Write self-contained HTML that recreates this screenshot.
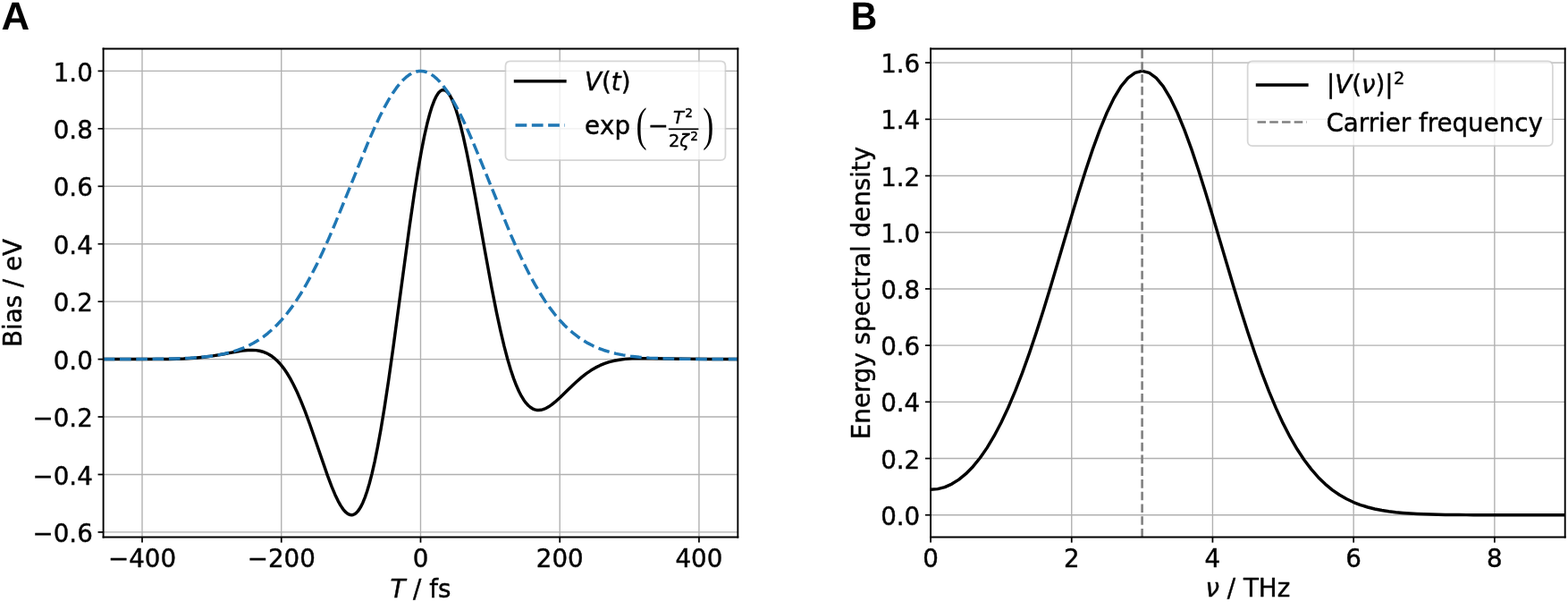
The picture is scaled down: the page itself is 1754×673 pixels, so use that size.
<!DOCTYPE html>
<html><head><meta charset="utf-8"><title>Figure</title><style>
html,body{margin:0;padding:0;background:#fff;}
#w{position:relative;width:1754px;height:673px;overflow:hidden;background:#fff;}
#w svg{display:block;}
#w svg text{stroke:#000;stroke-width:0.25px;stroke-linejoin:round;}
#w svg.ov text{stroke-width:0.0px;}
</style></head><body><div id="w">
<svg width="1754" height="673" viewBox="0 0 1012.994513 388.680335" version="1.1">
 <defs>
  <style type="text/css">*{stroke-linejoin: round; stroke-linecap: butt}</style>
 </defs>
 <g id="figure_1">
  <g id="patch_1">
   <path d="M 0 388.680335 
L 1012.994513 388.680335 
L 1012.994513 0 
L 0 0 
z
" style="fill: #ffffff"/>
  </g>
  <g id="axes_1">
   <g id="patch_2">
    <path d="M 66.762922 346.832226 
L 476.667629 346.832226 
L 476.667629 31.475599 
L 66.762922 31.475599 
z
" style="fill: #ffffff"/>
   </g>
   <g id="matplotlib.axis_1">
    <g id="xtick_1">
     <g id="line2d_1">
      <path d="M 91.83389 346.832226 
L 91.83389 31.475599 
" clip-path="url(#p06e7f5ee72)" style="fill: none; stroke: #b0b0b0; stroke-width: 0.8; stroke-linecap: square"/>
     </g>
     <g id="line2d_2">
      <defs>
       <path id="m8d3a855a7b" d="M 0 0 
L 0 3.5 
" style="stroke: #000000"/>
      </defs>
      <g>
       <use href="#m8d3a855a7b" x="91.83389" y="346.832226" style="stroke: #000000"/>
      </g>
     </g>
     <g id="text_1">
      <text style="font-size: 16px; font-family: 'DejaVu Sans', sans-serif; text-anchor: middle" x="91.8339" y="366.2207">−400</text>
     </g>
    </g>
    <g id="xtick_2">
     <g id="line2d_3">
      <path d="M 181.774583 346.832226 
L 181.774583 31.475599 
" clip-path="url(#p06e7f5ee72)" style="fill: none; stroke: #b0b0b0; stroke-width: 0.8; stroke-linecap: square"/>
     </g>
     <g id="line2d_4">
      <g>
       <use href="#m8d3a855a7b" x="181.774583" y="346.832226" style="stroke: #000000"/>
      </g>
     </g>
     <g id="text_2">
      <text style="font-size: 16px; font-family: 'DejaVu Sans', sans-serif; text-anchor: middle" x="181.7746" y="366.2207">−200</text>
     </g>
    </g>
    <g id="xtick_3">
     <g id="line2d_5">
      <path d="M 271.715276 346.832226 
L 271.715276 31.475599 
" clip-path="url(#p06e7f5ee72)" style="fill: none; stroke: #b0b0b0; stroke-width: 0.8; stroke-linecap: square"/>
     </g>
     <g id="line2d_6">
      <g>
       <use href="#m8d3a855a7b" x="271.715276" y="346.832226" style="stroke: #000000"/>
      </g>
     </g>
     <g id="text_3">
      <text style="font-size: 16px; font-family: 'DejaVu Sans', sans-serif; text-anchor: middle" x="271.7153" y="366.2207">0</text>
     </g>
    </g>
    <g id="xtick_4">
     <g id="line2d_7">
      <path d="M 361.655968 346.832226 
L 361.655968 31.475599 
" clip-path="url(#p06e7f5ee72)" style="fill: none; stroke: #b0b0b0; stroke-width: 0.8; stroke-linecap: square"/>
     </g>
     <g id="line2d_8">
      <g>
       <use href="#m8d3a855a7b" x="361.655968" y="346.832226" style="stroke: #000000"/>
      </g>
     </g>
     <g id="text_4">
      <text style="font-size: 16px; font-family: 'DejaVu Sans', sans-serif; text-anchor: middle" x="361.6560" y="366.2207">200</text>
     </g>
    </g>
    <g id="xtick_5">
     <g id="line2d_9">
      <path d="M 451.596661 346.832226 
L 451.596661 31.475599 
" clip-path="url(#p06e7f5ee72)" style="fill: none; stroke: #b0b0b0; stroke-width: 0.8; stroke-linecap: square"/>
     </g>
     <g id="line2d_10">
      <g>
       <use href="#m8d3a855a7b" x="451.596661" y="346.832226" style="stroke: #000000"/>
      </g>
     </g>
     <g id="text_5">
      <text style="font-size: 16px; font-family: 'DejaVu Sans', sans-serif; text-anchor: middle" x="451.5967" y="366.2207">400</text>
     </g>
    </g>
    <g id="xlabA" transform="translate(0.0000 1.0396)">
     <g transform="translate(252.035276 385.474726)">
      <text>
       <tspan x="0" y="-0.84375" style="font-style: oblique; font-size: 16px; font-family: 'DejaVu Sans', sans-serif">T</tspan>
       <tspan x="9.773438" y="-0.84375" style="font-size: 16px; font-family: 'DejaVu Sans', sans-serif"> </tspan>
       <tspan x="14.859375" y="-0.84375" style="font-size: 16px; font-family: 'DejaVu Sans', sans-serif">/</tspan>
       <tspan x="20.25" y="-0.84375" style="font-size: 16px; font-family: 'DejaVu Sans', sans-serif"> </tspan>
       <tspan x="25.335938" y="-0.84375" style="font-size: 16px; font-family: 'DejaVu Sans', sans-serif">f</tspan>
       <tspan x="30.96875" y="-0.84375" style="font-size: 16px; font-family: 'DejaVu Sans', sans-serif">s</tspan>
      </text>
     </g>
    </g>
   </g>
   <g id="matplotlib.axis_2">
    <g id="ytick_1">
     <g id="line2d_11">
      <path d="M 66.762922 343.575948 
L 476.667629 343.575948 
" clip-path="url(#p06e7f5ee72)" style="fill: none; stroke: #b0b0b0; stroke-width: 0.8; stroke-linecap: square"/>
     </g>
     <g id="line2d_12">
      <defs>
       <path id="me4d9d56b5a" d="M 0 0 
L -3.5 0 
" style="stroke: #000000"/>
      </defs>
      <g>
       <use href="#me4d9d56b5a" x="66.762922" y="343.575948" style="stroke: #000000"/>
      </g>
     </g>
     <g id="text_6">
      <text style="font-size: 16px; font-family: 'DejaVu Sans', sans-serif; text-anchor: end" x="59.9362" y="350.0012">−0.6</text>
     </g>
    </g>
    <g id="ytick_2">
     <g id="line2d_13">
      <path d="M 66.762922 306.361335 
L 476.667629 306.361335 
" clip-path="url(#p06e7f5ee72)" style="fill: none; stroke: #b0b0b0; stroke-width: 0.8; stroke-linecap: square"/>
     </g>
     <g id="line2d_14">
      <g>
       <use href="#me4d9d56b5a" x="66.762922" y="306.361335" style="stroke: #000000"/>
      </g>
     </g>
     <g id="text_7">
      <text style="font-size: 16px; font-family: 'DejaVu Sans', sans-serif; text-anchor: end" x="59.9362" y="312.7866">−0.4</text>
     </g>
    </g>
    <g id="ytick_3">
     <g id="line2d_15">
      <path d="M 66.762922 269.146723 
L 476.667629 269.146723 
" clip-path="url(#p06e7f5ee72)" style="fill: none; stroke: #b0b0b0; stroke-width: 0.8; stroke-linecap: square"/>
     </g>
     <g id="line2d_16">
      <g>
       <use href="#me4d9d56b5a" x="66.762922" y="269.146723" style="stroke: #000000"/>
      </g>
     </g>
     <g id="text_8">
      <text style="font-size: 16px; font-family: 'DejaVu Sans', sans-serif; text-anchor: end" x="59.9362" y="275.5720">−0.2</text>
     </g>
    </g>
    <g id="ytick_4">
     <g id="line2d_17">
      <path d="M 66.762922 231.93211 
L 476.667629 231.93211 
" clip-path="url(#p06e7f5ee72)" style="fill: none; stroke: #b0b0b0; stroke-width: 0.8; stroke-linecap: square"/>
     </g>
     <g id="line2d_18">
      <g>
       <use href="#me4d9d56b5a" x="66.762922" y="231.93211" style="stroke: #000000"/>
      </g>
     </g>
     <g id="text_9">
      <text style="font-size: 16px; font-family: 'DejaVu Sans', sans-serif; text-anchor: end" x="59.9362" y="238.3574">0.0</text>
     </g>
    </g>
    <g id="ytick_5">
     <g id="line2d_19">
      <path d="M 66.762922 194.717497 
L 476.667629 194.717497 
" clip-path="url(#p06e7f5ee72)" style="fill: none; stroke: #b0b0b0; stroke-width: 0.8; stroke-linecap: square"/>
     </g>
     <g id="line2d_20">
      <g>
       <use href="#me4d9d56b5a" x="66.762922" y="194.717497" style="stroke: #000000"/>
      </g>
     </g>
     <g id="text_10">
      <text style="font-size: 16px; font-family: 'DejaVu Sans', sans-serif; text-anchor: end" x="59.9362" y="201.1428">0.2</text>
     </g>
    </g>
    <g id="ytick_6">
     <g id="line2d_21">
      <path d="M 66.762922 157.502885 
L 476.667629 157.502885 
" clip-path="url(#p06e7f5ee72)" style="fill: none; stroke: #b0b0b0; stroke-width: 0.8; stroke-linecap: square"/>
     </g>
     <g id="line2d_22">
      <g>
       <use href="#me4d9d56b5a" x="66.762922" y="157.502885" style="stroke: #000000"/>
      </g>
     </g>
     <g id="text_11">
      <text style="font-size: 16px; font-family: 'DejaVu Sans', sans-serif; text-anchor: end" x="59.9362" y="163.9282">0.4</text>
     </g>
    </g>
    <g id="ytick_7">
     <g id="line2d_23">
      <path d="M 66.762922 120.288272 
L 476.667629 120.288272 
" clip-path="url(#p06e7f5ee72)" style="fill: none; stroke: #b0b0b0; stroke-width: 0.8; stroke-linecap: square"/>
     </g>
     <g id="line2d_24">
      <g>
       <use href="#me4d9d56b5a" x="66.762922" y="120.288272" style="stroke: #000000"/>
      </g>
     </g>
     <g id="text_12">
      <text style="font-size: 16px; font-family: 'DejaVu Sans', sans-serif; text-anchor: end" x="59.9362" y="126.7135">0.6</text>
     </g>
    </g>
    <g id="ytick_8">
     <g id="line2d_25">
      <path d="M 66.762922 83.07366 
L 476.667629 83.07366 
" clip-path="url(#p06e7f5ee72)" style="fill: none; stroke: #b0b0b0; stroke-width: 0.8; stroke-linecap: square"/>
     </g>
     <g id="line2d_26">
      <g>
       <use href="#me4d9d56b5a" x="66.762922" y="83.07366" style="stroke: #000000"/>
      </g>
     </g>
     <g id="text_13">
      <text style="font-size: 16px; font-family: 'DejaVu Sans', sans-serif; text-anchor: end" x="59.9362" y="89.4989">0.8</text>
     </g>
    </g>
    <g id="ytick_9">
     <g id="line2d_27">
      <path d="M 66.762922 45.859047 
L 476.667629 45.859047 
" clip-path="url(#p06e7f5ee72)" style="fill: none; stroke: #b0b0b0; stroke-width: 0.8; stroke-linecap: square"/>
     </g>
     <g id="line2d_28">
      <g>
       <use href="#me4d9d56b5a" x="66.762922" y="45.859047" style="stroke: #000000"/>
      </g>
     </g>
     <g id="text_14">
      <text style="font-size: 16px; font-family: 'DejaVu Sans', sans-serif; text-anchor: end" x="59.9362" y="52.2843">1.0</text>
     </g>
    </g>
    <g id="ylabA" transform="translate(0.1733 0.0000)">
     <text style="font-size: 16px; font-family: 'DejaVu Sans', sans-serif; text-anchor: middle" x="13.582922" y="189.153913" transform="rotate(-90 13.582922 189.153913)">Bias / eV</text>
    </g>
   </g>
   <g id="line2d_29">
    <path d="M 66.762922 231.937849 
L 109.802917 231.852827 
L 118.684185 231.585844 
L 125.652565 231.159298 
L 131.664501 230.574558 
L 137.539802 229.77863 
L 143.961642 228.675458 
L 156.532053 226.444245 
L 160.084561 226.095512 
L 162.953894 226.032325 
L 165.413322 226.189207 
L 167.736115 226.561024 
L 169.785639 227.103715 
L 171.835162 227.878691 
L 173.748051 228.838017 
L 175.660939 230.049777 
L 177.573828 231.536992 
L 179.486717 233.321101 
L 181.399605 235.421286 
L 183.312494 237.853756 
L 185.362018 240.842816 
L 187.411541 244.237243 
L 189.597699 248.307656 
L 191.920493 253.133312 
L 194.379921 258.780252 
L 197.112619 265.64614 
L 200.255222 274.188304 
L 204.354269 286.03539 
L 211.595919 307.050655 
L 214.328617 314.260263 
L 216.514775 319.452951 
L 218.427664 323.451408 
L 220.067283 326.394911 
L 221.570267 328.645454 
L 222.936616 330.280001 
L 224.16633 331.387777 
L 225.259409 332.064215 
L 226.215853 332.40558 
L 227.172298 332.503055 
L 228.128742 332.347665 
L 229.085186 331.931122 
L 230.041631 331.245881 
L 230.998075 330.285192 
L 232.091154 328.842461 
L 233.184233 327.024947 
L 234.413947 324.525213 
L 235.780296 321.176363 
L 237.146645 317.222902 
L 238.649629 312.177343 
L 240.289248 305.850371 
L 242.065502 298.050792 
L 243.978391 288.596331 
L 246.027914 277.327924 
L 248.350707 263.265594 
L 250.946771 246.152121 
L 254.089373 223.905229 
L 258.871595 188.247691 
L 264.473626 146.811333 
L 267.616229 125.23507 
L 270.075657 109.785737 
L 272.261815 97.389158 
L 274.174704 87.733235 
L 275.950958 79.865668 
L 277.590577 73.609621 
L 279.09356 68.766229 
L 280.45991 65.128242 
L 281.689624 62.490749 
L 282.782703 60.659173 
L 283.739147 59.454907 
L 284.695591 58.622908 
L 285.515401 58.205354 
L 286.33521 58.059199 
L 287.018385 58.143209 
L 287.838194 58.488585 
L 288.658004 59.097512 
L 289.614448 60.135535 
L 290.570892 61.519071 
L 291.663972 63.512007 
L 292.893686 66.261097 
L 294.260035 69.917068 
L 295.763019 74.627328 
L 297.402637 80.527052 
L 299.315526 88.314817 
L 301.501684 98.248523 
L 303.961113 110.495524 
L 307.103715 127.329541 
L 313.252286 161.840883 
L 317.624603 185.677838 
L 320.767206 201.583557 
L 323.363269 213.633563 
L 325.686062 223.434104 
L 327.872221 231.731877 
L 329.921744 238.652465 
L 331.834633 244.343121 
L 333.610887 248.959083 
L 335.250505 252.653734 
L 336.890124 255.815452 
L 338.393108 258.258756 
L 339.896092 260.282662 
L 341.262441 261.773878 
L 342.62879 262.948866 
L 343.995139 263.824418 
L 345.361488 264.418473 
L 346.727837 264.749879 
L 348.094186 264.838155 
L 349.460535 264.703266 
L 350.963519 264.321234 
L 352.603138 263.65598 
L 354.379392 262.68165 
L 356.428915 261.284176 
L 358.751709 259.42245 
L 361.757676 256.708504 
L 366.949803 251.652873 
L 372.278564 246.571342 
L 375.831071 243.489404 
L 378.973674 241.052229 
L 381.979642 239.006065 
L 384.848975 237.321998 
L 387.718308 235.896987 
L 390.587641 234.718188 
L 393.593609 233.726225 
L 396.736211 232.925932 
L 400.152084 232.291442 
L 403.977861 231.818717 
L 408.350178 231.513553 
L 413.678939 231.374209 
L 421.330494 231.418836 
L 458.768457 231.908773 
L 476.667629 231.93183 
L 476.667629 231.93183 
" clip-path="url(#p06e7f5ee72)" style="fill: none; stroke: #000000; stroke-width: 2; stroke-linecap: square"/>
   </g>
   <g id="line2d_30">
    <path d="M 66.762922 231.926364 
L 100.785013 231.796435 
L 114.038599 231.533873 
L 123.056502 231.143678 
L 130.161517 230.619405 
L 136.036818 229.968472 
L 141.092309 229.192945 
L 145.601261 228.28527 
L 149.700308 227.242608 
L 153.526085 226.046377 
L 157.078593 224.710869 
L 160.494465 223.193317 
L 163.773703 221.494043 
L 166.916306 219.617905 
L 170.058908 217.475322 
L 173.064876 215.154743 
L 176.070844 212.54847 
L 179.076812 209.637164 
L 182.08278 206.402918 
L 185.088748 202.829812 
L 188.094716 198.904507 
L 191.100683 194.616858 
L 194.243286 189.740075 
L 197.522524 184.219552 
L 200.801761 178.262845 
L 204.354269 171.332425 
L 208.043411 163.639271 
L 212.142458 154.553785 
L 216.65141 144.005495 
L 222.253441 130.308584 
L 237.966455 91.526135 
L 242.065502 82.208787 
L 245.481375 74.973057 
L 248.487342 69.095928 
L 251.22004 64.213879 
L 253.816104 60.029381 
L 256.138897 56.692661 
L 258.325055 53.927421 
L 260.374579 51.68268 
L 262.287468 49.903496 
L 264.063721 48.533044 
L 265.839975 47.440329 
L 267.479594 46.682587 
L 269.119213 46.168839 
L 270.758831 45.901127 
L 272.261815 45.872788 
L 273.764799 46.052191 
L 275.404418 46.484107 
L 277.044037 47.160804 
L 278.683656 48.079596 
L 280.45991 49.343907 
L 282.236163 50.882204 
L 284.149052 52.837089 
L 286.198575 55.263271 
L 288.384734 58.213151 
L 290.707527 61.734734 
L 293.166955 65.869288 
L 295.899653 70.911389 
L 298.905621 76.94349 
L 302.321494 84.327034 
L 306.283906 93.456966 
L 311.202763 105.383231 
L 330.195014 152.045308 
L 334.567331 161.865249 
L 338.529743 170.223695 
L 342.218885 177.488127 
L 345.634758 183.739699 
L 348.913996 189.296855 
L 352.193233 194.413236 
L 355.335836 198.904507 
L 358.478439 202.999777 
L 361.484407 206.557168 
L 364.490374 209.776373 
L 367.496342 212.673413 
L 370.50231 215.266272 
L 373.508278 217.57434 
L 376.650881 219.704845 
L 379.793483 221.569938 
L 383.072721 223.258778 
L 386.488594 224.766616 
L 390.041101 226.093216 
L 393.866878 227.28113 
L 397.965925 228.316228 
L 402.474877 229.217025 
L 407.393734 229.968472 
L 412.995765 230.594079 
L 419.55424 231.094843 
L 427.615699 231.475076 
L 438.136587 231.734491 
L 454.12287 231.88233 
L 476.667629 231.926364 
L 476.667629 231.926364 
" clip-path="url(#p06e7f5ee72)" style="fill: none; stroke-dasharray: 7.38002,3.19136; stroke-dashoffset: 0; stroke: #1f77b4; stroke-width: 2"/>
   </g>
   <g id="patch_3">
    <path d="M 66.762922 346.832226 
L 66.762922 31.475599 
" style="fill: none; stroke: #000000; stroke-width: 1.1; stroke-linejoin: miter; stroke-linecap: square"/>
   </g>
   <g id="patch_4">
    <path d="M 476.667629 346.832226 
L 476.667629 31.475599 
" style="fill: none; stroke: #000000; stroke-width: 1.1; stroke-linejoin: miter; stroke-linecap: square"/>
   </g>
   <g id="patch_5">
    <path d="M 66.762922 346.832226 
L 476.667629 346.832226 
" style="fill: none; stroke: #000000; stroke-width: 1.1; stroke-linejoin: miter; stroke-linecap: square"/>
   </g>
   <g id="patch_6">
    <path d="M 66.762922 31.475599 
L 476.667629 31.475599 
" style="fill: none; stroke: #000000; stroke-width: 1.1; stroke-linejoin: miter; stroke-linecap: square"/>
   </g>
   <g id="legend_1">
    <g id="legA_frame">
     <path d="M 329.756396 103.440599 
L 465.467629 103.440599 
Q 468.667629 103.440599 468.667629 100.240599 
L 468.667629 42.675599 
Q 468.667629 39.475599 465.467629 39.475599 
L 329.756396 39.475599 
Q 326.556396 39.475599 326.556396 42.675599 
L 326.556396 100.240599 
Q 326.556396 103.440599 329.756396 103.440599 
z
" style="fill: #ffffff; opacity: 0.8; stroke: #cccccc; stroke-linejoin: miter"/>
    </g>
    <g id="legA_h0" transform="translate(0.2888 0.0000)">
     <path d="M 332.667629 52.433099 
L 348.667629 52.433099 
L 364.667629 52.433099 
" style="fill: none; stroke: #000000; stroke-width: 2; stroke-linecap: square"/>
    </g>
    <g id="legA_t0" transform="translate(0.2888 1.1551)">
     <g transform="translate(377.467629 58.033099)">
      <text>
       <tspan x="0" y="-0.859375" style="font-style: oblique; font-size: 16px; font-family: 'DejaVu Sans', sans-serif">V</tspan>
       <tspan x="17.1875" y="-0.859375" style="font-style: oblique; font-size: 16px; font-family: 'DejaVu Sans', sans-serif">t</tspan>
       <tspan x="10.945312" y="-0.859375" style="font-size: 16px; font-family: 'DejaVu Sans', sans-serif">(</tspan>
       <tspan x="23.460938" y="-0.859375" style="font-size: 16px; font-family: 'DejaVu Sans', sans-serif">)</tspan>
      </text>
     </g>
    </g>
    <g id="legA_h1" transform="translate(0.2888 0.0000)">
     <path d="M 332.667629 80.880599 
L 348.667629 80.880599 
L 364.667629 80.880599 
" style="fill: none; stroke-dasharray: 7.38002,3.19136; stroke-dashoffset: 0; stroke: #1f77b4; stroke-width: 2"/>
    </g>
    <g id="legA_t1" transform="translate(0.2310 1.1551)">
     <g transform="translate(377.467629 86.480599)">
      <text>
       <tspan x="0" y="-0.778125" style="font-size: 16px; font-family: 'DejaVu Sans', sans-serif">e</tspan>
       <tspan x="9.84375" y="-0.778125" style="font-size: 16px; font-family: 'DejaVu Sans', sans-serif">x</tspan>
       <tspan x="19.3125" y="-0.778125" style="font-size: 16px; font-family: 'DejaVu Sans', sans-serif">p</tspan>
       <tspan x="40.827826" y="-0.778125" style="font-size: 16px; font-family: 'DejaVu Sans', sans-serif">−</tspan>
       <tspan x="57.234076" y="-7.785937" style="font-style: oblique; font-size: 11.2px; font-family: 'DejaVu Sans', sans-serif">T</tspan>
       <tspan x="61.359857" y="7.320312" style="font-style: oblique; font-size: 11.2px; font-family: 'DejaVu Sans', sans-serif">ζ</tspan>
       <tspan x="64.862034" y="-12.073437" style="font-size: 7.84px; font-family: 'DejaVu Sans', sans-serif">2</tspan>
       <tspan x="68.286066" y="3.032812" style="font-size: 7.84px; font-family: 'DejaVu Sans', sans-serif">2</tspan>
       <tspan x="54.234076" y="7.320312" style="font-size: 11.2px; font-family: 'DejaVu Sans', sans-serif">2</tspan>
      </text>
      <rect x="54.234076" y="-4.785937" width="19.346286" height="1"/>
     </g>
    </g>
   </g>
  </g>
  <g id="axes_2">
   <g id="patch_7">
    <path d="M 601.241698 346.832226 
L 1011.088651 346.832226 
L 1011.088651 31.475599 
L 601.241698 31.475599 
z
" style="fill: #ffffff"/>
   </g>
   <g id="matplotlib.axis_3">
    <g id="xtick_6">
     <g id="line2d_31">
      <path d="M 601.241698 346.832226 
L 601.241698 31.475599 
" clip-path="url(#pcb6047ac11)" style="fill: none; stroke: #b0b0b0; stroke-width: 0.8; stroke-linecap: square"/>
     </g>
     <g id="line2d_32">
      <g>
       <use href="#m8d3a855a7b" x="601.241698" y="346.832226" style="stroke: #000000"/>
      </g>
     </g>
     <g id="text_15">
      <text style="font-size: 16px; font-family: 'DejaVu Sans', sans-serif; text-anchor: middle" x="601.2417" y="366.2207">0</text>
     </g>
    </g>
    <g id="xtick_7">
     <g id="line2d_33">
      <path d="M 692.318799 346.832226 
L 692.318799 31.475599 
" clip-path="url(#pcb6047ac11)" style="fill: none; stroke: #b0b0b0; stroke-width: 0.8; stroke-linecap: square"/>
     </g>
     <g id="line2d_34">
      <g>
       <use href="#m8d3a855a7b" x="692.318799" y="346.832226" style="stroke: #000000"/>
      </g>
     </g>
     <g id="text_16">
      <text style="font-size: 16px; font-family: 'DejaVu Sans', sans-serif; text-anchor: middle" x="692.3188" y="366.2207">2</text>
     </g>
    </g>
    <g id="xtick_8">
     <g id="line2d_35">
      <path d="M 783.3959 346.832226 
L 783.3959 31.475599 
" clip-path="url(#pcb6047ac11)" style="fill: none; stroke: #b0b0b0; stroke-width: 0.8; stroke-linecap: square"/>
     </g>
     <g id="line2d_36">
      <g>
       <use href="#m8d3a855a7b" x="783.3959" y="346.832226" style="stroke: #000000"/>
      </g>
     </g>
     <g id="text_17">
      <text style="font-size: 16px; font-family: 'DejaVu Sans', sans-serif; text-anchor: middle" x="783.3959" y="366.2207">4</text>
     </g>
    </g>
    <g id="xtick_9">
     <g id="line2d_37">
      <path d="M 874.473 346.832226 
L 874.473 31.475599 
" clip-path="url(#pcb6047ac11)" style="fill: none; stroke: #b0b0b0; stroke-width: 0.8; stroke-linecap: square"/>
     </g>
     <g id="line2d_38">
      <g>
       <use href="#m8d3a855a7b" x="874.473" y="346.832226" style="stroke: #000000"/>
      </g>
     </g>
     <g id="text_18">
      <text style="font-size: 16px; font-family: 'DejaVu Sans', sans-serif; text-anchor: middle" x="874.4730" y="366.2207">6</text>
     </g>
    </g>
    <g id="xtick_10">
     <g id="line2d_39">
      <path d="M 965.550101 346.832226 
L 965.550101 31.475599 
" clip-path="url(#pcb6047ac11)" style="fill: none; stroke: #b0b0b0; stroke-width: 0.8; stroke-linecap: square"/>
     </g>
     <g id="line2d_40">
      <g>
       <use href="#m8d3a855a7b" x="965.550101" y="346.832226" style="stroke: #000000"/>
      </g>
     </g>
     <g id="text_19">
      <text style="font-size: 16px; font-family: 'DejaVu Sans', sans-serif; text-anchor: middle" x="965.5501" y="366.2207">8</text>
     </g>
    </g>
    <g id="xlabB" transform="translate(0.0000 0.3465)">
     <g transform="translate(778.805175 385.474726)">
      <text>
       <tspan x="0" y="-0.328125" style="font-style: oblique; font-size: 16px; font-family: 'DejaVu Sans', sans-serif">ν</tspan>
       <tspan x="8.9375" y="-0.328125" style="font-size: 16px; font-family: 'DejaVu Sans', sans-serif"> </tspan>
       <tspan x="14.023438" y="-0.328125" style="font-size: 16px; font-family: 'DejaVu Sans', sans-serif">/</tspan>
       <tspan x="19.414062" y="-0.328125" style="font-size: 16px; font-family: 'DejaVu Sans', sans-serif"> </tspan>
       <tspan x="24.5" y="-0.328125" style="font-size: 16px; font-family: 'DejaVu Sans', sans-serif">T</tspan>
       <tspan x="34.273438" y="-0.328125" style="font-size: 16px; font-family: 'DejaVu Sans', sans-serif">H</tspan>
       <tspan x="46.304688" y="-0.328125" style="font-size: 16px; font-family: 'DejaVu Sans', sans-serif">z</tspan>
      </text>
     </g>
    </g>
   </g>
   <g id="matplotlib.axis_4">
    <g id="ytick_10">
     <g id="line2d_41">
      <path d="M 601.241698 332.50613 
L 1011.088651 332.50613 
" clip-path="url(#pcb6047ac11)" style="fill: none; stroke: #b0b0b0; stroke-width: 0.8; stroke-linecap: square"/>
     </g>
     <g id="line2d_42">
      <g>
       <use href="#me4d9d56b5a" x="601.241698" y="332.50613" style="stroke: #000000"/>
      </g>
     </g>
     <g id="text_20">
      <text style="font-size: 16px; font-family: 'DejaVu Sans', sans-serif; text-anchor: end" x="594.4150" y="338.9314">0.0</text>
     </g>
    </g>
    <g id="ytick_11">
     <g id="line2d_43">
      <path d="M 601.241698 296.00652 
L 1011.088651 296.00652 
" clip-path="url(#pcb6047ac11)" style="fill: none; stroke: #b0b0b0; stroke-width: 0.8; stroke-linecap: square"/>
     </g>
     <g id="line2d_44">
      <g>
       <use href="#me4d9d56b5a" x="601.241698" y="296.00652" style="stroke: #000000"/>
      </g>
     </g>
     <g id="text_21">
      <text style="font-size: 16px; font-family: 'DejaVu Sans', sans-serif; text-anchor: end" x="594.4150" y="302.4318">0.2</text>
     </g>
    </g>
    <g id="ytick_12">
     <g id="line2d_45">
      <path d="M 601.241698 259.50691 
L 1011.088651 259.50691 
" clip-path="url(#pcb6047ac11)" style="fill: none; stroke: #b0b0b0; stroke-width: 0.8; stroke-linecap: square"/>
     </g>
     <g id="line2d_46">
      <g>
       <use href="#me4d9d56b5a" x="601.241698" y="259.50691" style="stroke: #000000"/>
      </g>
     </g>
     <g id="text_22">
      <text style="font-size: 16px; font-family: 'DejaVu Sans', sans-serif; text-anchor: end" x="594.4150" y="265.9322">0.4</text>
     </g>
    </g>
    <g id="ytick_13">
     <g id="line2d_47">
      <path d="M 601.241698 223.007301 
L 1011.088651 223.007301 
" clip-path="url(#pcb6047ac11)" style="fill: none; stroke: #b0b0b0; stroke-width: 0.8; stroke-linecap: square"/>
     </g>
     <g id="line2d_48">
      <g>
       <use href="#me4d9d56b5a" x="601.241698" y="223.007301" style="stroke: #000000"/>
      </g>
     </g>
     <g id="text_23">
      <text style="font-size: 16px; font-family: 'DejaVu Sans', sans-serif; text-anchor: end" x="594.4150" y="229.4326">0.6</text>
     </g>
    </g>
    <g id="ytick_14">
     <g id="line2d_49">
      <path d="M 601.241698 186.507691 
L 1011.088651 186.507691 
" clip-path="url(#pcb6047ac11)" style="fill: none; stroke: #b0b0b0; stroke-width: 0.8; stroke-linecap: square"/>
     </g>
     <g id="line2d_50">
      <g>
       <use href="#me4d9d56b5a" x="601.241698" y="186.507691" style="stroke: #000000"/>
      </g>
     </g>
     <g id="text_24">
      <text style="font-size: 16px; font-family: 'DejaVu Sans', sans-serif; text-anchor: end" x="594.4150" y="192.9330">0.8</text>
     </g>
    </g>
    <g id="ytick_15">
     <g id="line2d_51">
      <path d="M 601.241698 150.008081 
L 1011.088651 150.008081 
" clip-path="url(#pcb6047ac11)" style="fill: none; stroke: #b0b0b0; stroke-width: 0.8; stroke-linecap: square"/>
     </g>
     <g id="line2d_52">
      <g>
       <use href="#me4d9d56b5a" x="601.241698" y="150.008081" style="stroke: #000000"/>
      </g>
     </g>
     <g id="text_25">
      <text style="font-size: 16px; font-family: 'DejaVu Sans', sans-serif; text-anchor: end" x="594.4150" y="156.4334">1.0</text>
     </g>
    </g>
    <g id="ytick_16">
     <g id="line2d_53">
      <path d="M 601.241698 113.508472 
L 1011.088651 113.508472 
" clip-path="url(#pcb6047ac11)" style="fill: none; stroke: #b0b0b0; stroke-width: 0.8; stroke-linecap: square"/>
     </g>
     <g id="line2d_54">
      <g>
       <use href="#me4d9d56b5a" x="601.241698" y="113.508472" style="stroke: #000000"/>
      </g>
     </g>
     <g id="text_26">
      <text style="font-size: 16px; font-family: 'DejaVu Sans', sans-serif; text-anchor: end" x="594.4150" y="119.9337">1.2</text>
     </g>
    </g>
    <g id="ytick_17">
     <g id="line2d_55">
      <path d="M 601.241698 77.008862 
L 1011.088651 77.008862 
" clip-path="url(#pcb6047ac11)" style="fill: none; stroke: #b0b0b0; stroke-width: 0.8; stroke-linecap: square"/>
     </g>
     <g id="line2d_56">
      <g>
       <use href="#me4d9d56b5a" x="601.241698" y="77.008862" style="stroke: #000000"/>
      </g>
     </g>
     <g id="text_27">
      <text style="font-size: 16px; font-family: 'DejaVu Sans', sans-serif; text-anchor: end" x="594.4150" y="83.4341">1.4</text>
     </g>
    </g>
    <g id="ytick_18">
     <g id="line2d_57">
      <path d="M 601.241698 40.509253 
L 1011.088651 40.509253 
" clip-path="url(#pcb6047ac11)" style="fill: none; stroke: #b0b0b0; stroke-width: 0.8; stroke-linecap: square"/>
     </g>
     <g id="line2d_58">
      <g>
       <use href="#me4d9d56b5a" x="601.241698" y="40.509253" style="stroke: #000000"/>
      </g>
     </g>
     <g id="text_28">
      <text style="font-size: 16px; font-family: 'DejaVu Sans', sans-serif; text-anchor: end" x="594.4150" y="46.9345">1.6</text>
     </g>
    </g>
    <g id="ylabB" transform="translate(0.4620 0.0000)">
     <text style="font-size: 16px; font-family: 'DejaVu Sans', sans-serif; text-anchor: middle" x="561.469198" y="189.153913" transform="rotate(-90 561.469198 189.153913)">Energy spectral density</text>
    </g>
   </g>
   <g id="line2d_59">
    <path d="M 601.241698 316.08758 
L 605.795553 315.691333 
L 610.349408 314.497096 
L 614.903263 312.488762 
L 619.457118 309.640736 
L 624.010973 305.919783 
L 628.564828 301.287562 
L 633.118683 295.703775 
L 637.672538 289.129862 
L 642.226393 281.533109 
L 646.780248 272.891046 
L 651.334103 263.195944 
L 655.887958 252.459239 
L 660.441813 240.715628 
L 664.995668 228.026632 
L 669.549524 214.483365 
L 674.103379 200.208295 
L 678.657234 185.355783 
L 683.211089 170.111245 
L 687.764944 154.688833 
L 692.318799 139.327604 
L 696.872654 124.286216 
L 701.426509 109.836304 
L 705.980364 96.254735 
L 710.534219 83.815066 
L 715.088074 72.778547 
L 719.641929 63.385104 
L 724.195784 55.844725 
L 728.749639 50.329689 
L 733.303494 46.968044 
L 737.857349 45.838673 
L 742.411204 46.968232 
L 746.965059 50.330105 
L 751.518914 55.845451 
L 756.072769 63.386281 
L 760.626624 72.780396 
L 765.180479 83.817926 
L 769.734334 96.259108 
L 774.288189 109.842927 
L 778.842044 124.296166 
L 783.3959 139.34243 
L 787.949755 154.71075 
L 792.50361 170.143389 
L 797.057465 185.402555 
L 801.61132 200.275816 
L 806.165175 214.580073 
L 810.71903 228.164054 
L 815.272885 240.909368 
L 819.82674 252.73023 
L 824.380595 263.572007 
L 828.93445 273.408815 
L 833.488305 282.240378 
L 838.04216 290.088385 
L 842.596015 296.992595 
L 847.14987 303.006865 
L 851.703725 308.19532 
L 856.25758 312.628774 
L 860.811435 316.381538 
L 865.36529 319.528667 
L 869.919145 322.143694 
L 874.473 324.296855 
L 879.026855 326.053768 
L 883.58071 327.474559 
L 888.134565 328.613354 
L 892.68842 329.518091 
L 897.242275 330.230593 
L 901.796131 330.786826 
L 906.349986 331.21731 
L 910.903841 331.547606 
L 915.457696 331.798861 
L 920.011551 331.98836 
L 924.565406 332.130067 
L 929.119261 332.235139 
L 933.673116 332.312389 
L 938.226971 332.368708 
L 942.780826 332.409421 
L 947.334681 332.438608 
L 951.888536 332.459357 
L 956.442391 332.473985 
L 960.996246 332.484212 
L 965.550101 332.491302 
L 970.103956 332.496178 
L 974.657811 332.499503 
L 979.211666 332.501752 
L 983.765521 332.50326 
L 988.319376 332.504264 
L 992.873231 332.504926 
L 997.427086 332.505359 
L 1001.980941 332.50564 
L 1006.534796 332.505821 
L 1011.088651 332.505937 
" clip-path="url(#pcb6047ac11)" style="fill: none; stroke: #000000; stroke-width: 2; stroke-linecap: square"/>
   </g>
   <g id="line2d_60">
    <path d="M 737.857349 346.832226 
L 737.857349 31.475599 
" clip-path="url(#pcb6047ac11)" style="fill: none; stroke-dasharray: 5.535015,2.39352; stroke-dashoffset: 0; stroke: #808080; stroke-width: 1.5"/>
   </g>
   <g id="patch_8">
    <path d="M 601.241698 346.832226 
L 601.241698 31.475599 
" style="fill: none; stroke: #000000; stroke-width: 1.1; stroke-linejoin: miter; stroke-linecap: square"/>
   </g>
   <g id="patch_9">
    <path d="M 1011.088651 346.832226 
L 1011.088651 31.475599 
" style="fill: none; stroke: #000000; stroke-width: 1.1; stroke-linejoin: miter; stroke-linecap: square"/>
   </g>
   <g id="patch_10">
    <path d="M 601.241698 346.832226 
L 1011.088651 346.832226 
" style="fill: none; stroke: #000000; stroke-width: 1.1; stroke-linejoin: miter; stroke-linecap: square"/>
   </g>
   <g id="patch_11">
    <path d="M 601.241698 31.475599 
L 1011.088651 31.475599 
" style="fill: none; stroke: #000000; stroke-width: 1.1; stroke-linejoin: miter; stroke-linecap: square"/>
   </g>
   <g id="legend_2">
    <g id="legB_frame">
     <path d="M 809.216185 94.160599 
L 999.888651 94.160599 
Q 1003.088651 94.160599 1003.088651 90.960599 
L 1003.088651 42.675599 
Q 1003.088651 39.475599 999.888651 39.475599 
L 809.216185 39.475599 
Q 806.016185 39.475599 806.016185 42.675599 
L 806.016185 90.960599 
Q 806.016185 94.160599 809.216185 94.160599 
z
" style="fill: #ffffff; opacity: 0.8; stroke: #cccccc; stroke-linejoin: miter"/>
    </g>
    <g id="legB_h0" transform="translate(0.4620 0.0000)">
     <path d="M 811.838651 54.835599 
L 827.838651 54.835599 
L 843.838651 54.835599 
" style="fill: none; stroke: #000000; stroke-width: 2; stroke-linecap: square"/>
    </g>
    <g id="legB_t0" transform="translate(0.4043 0.4620)">
     <g transform="translate(856.638651 60.435599)">
      <text>
       <tspan x="0" y="-0.5625" style="font-size: 16px; font-family: 'DejaVu Sans', sans-serif">|</tspan>
       <tspan x="16.335938" y="-0.5625" style="font-size: 16px; font-family: 'DejaVu Sans', sans-serif">(</tspan>
       <tspan x="31.515625" y="-0.5625" style="font-size: 16px; font-family: 'DejaVu Sans', sans-serif">)</tspan>
       <tspan x="37.757812" y="-0.5625" style="font-size: 16px; font-family: 'DejaVu Sans', sans-serif">|</tspan>
       <tspan x="5.390625" y="-0.5625" style="font-style: oblique; font-size: 16px; font-family: 'DejaVu Sans', sans-serif">V</tspan>
       <tspan x="22.578125" y="-0.5625" style="font-style: oblique; font-size: 16px; font-family: 'DejaVu Sans', sans-serif">ν</tspan>
       <tspan x="43.301563" y="-6.6875" style="font-size: 11.2px; font-family: 'DejaVu Sans', sans-serif">2</tspan>
      </text>
     </g>
    </g>
    <g id="legB_h1" transform="translate(0.4620 0.0000)">
     <path d="M 811.838651 78.833099 
L 827.838651 78.833099 
L 843.838651 78.833099 
" style="fill: none; stroke-dasharray: 5.535015,2.39352; stroke-dashoffset: 0; stroke: #808080; stroke-width: 1.5"/>
    </g>
    <g id="legB_t1" transform="translate(0.1155 0.3465)">
     <text style="font-size: 16px; font-family: 'DejaVu Sans', sans-serif; text-anchor: start" x="856.6387" y="84.6641">Carrier frequency</text>
    </g>
   </g>
  </g>
 </g>
 <defs>
  <clipPath id="p06e7f5ee72">
   <rect x="66.762922" y="31.475599" width="409.904707" height="315.356627"/>
  </clipPath>
  <clipPath id="pcb6047ac11">
   <rect x="601.241698" y="31.475599" width="409.846954" height="315.356627"/>
  </clipPath>
 </defs>
</svg>
<svg class="ov" style="position:absolute;left:0;top:0" width="1754" height="673">
<text transform="translate(1.500 32.700) scale(0.43800 0.43800) rotate(0.02)" style="text-rendering:geometricPrecision;font-weight:bold;font-size:100px;font-family:'Liberation Sans', Arial, sans-serif">A</text>
<text transform="translate(951.730 32.700) scale(0.40734 0.43800) rotate(0.02)" style="text-rendering:geometricPrecision;font-weight:bold;font-size:100px;font-family:'Liberation Sans', Arial, sans-serif">B</text>
<text transform="translate(711.452 157.364) scale(1.3139 1.8713)" style="font-size:27.70px;font-family:'Liberation Serif', serif">(</text>
<text transform="translate(786.128 157.364) scale(1.3139 1.8713)" style="font-size:27.70px;font-family:'Liberation Serif', serif">)</text>
</svg>
</div></body></html>
